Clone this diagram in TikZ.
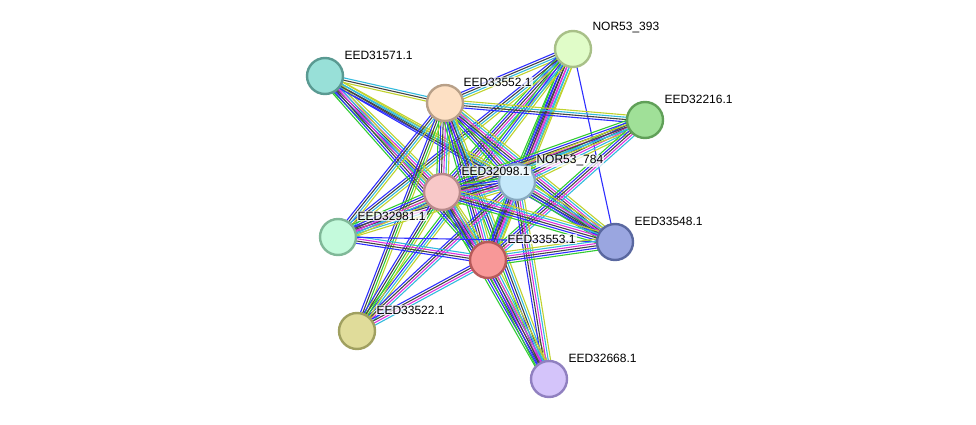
\documentclass[tikz,border=0pt]{standalone}
\usepackage{fontspec}
\setmainfont{Liberation Sans}
\usetikzlibrary{calc,backgrounds}
\definecolor{eg}{HTML}{33CC33}
\definecolor{eb}{HTML}{2E2EFF}
\definecolor{ek}{HTML}{444444}
\definecolor{em}{HTML}{DD33DD}
\definecolor{ec}{HTML}{33BBDD}
\definecolor{ey}{HTML}{C0D22E}
\definecolor{fA}{HTML}{E0FCC8}\definecolor{dA}{HTML}{A8C088}
\definecolor{fB}{HTML}{98E0D8}\definecolor{dB}{HTML}{5A9A92}
\definecolor{fC}{HTML}{FDE0C4}\definecolor{dC}{HTML}{B8A088}
\definecolor{fD}{HTML}{A0E098}\definecolor{dD}{HTML}{60A058}
\definecolor{fE}{HTML}{C4E8FA}\definecolor{dE}{HTML}{88AAC0}
\definecolor{fF}{HTML}{F8C8C8}\definecolor{dF}{HTML}{B88A8A}
\definecolor{fG}{HTML}{C4FADC}\definecolor{dG}{HTML}{80B898}
\definecolor{fH}{HTML}{F89898}\definecolor{dH}{HTML}{B85A5A}
\definecolor{fI}{HTML}{9AA6E0}\definecolor{dI}{HTML}{5A68A0}
\definecolor{fJ}{HTML}{E0DC9A}\definecolor{dJ}{HTML}{A0A060}
\definecolor{fK}{HTML}{D4C4FA}\definecolor{dK}{HTML}{9080C0}
\newcommand\stredge[3]{%
  \gdef\ennum{0}%
  \foreach \ecol in {#3}{\xdef\ennum{\the\numexpr\ennum+1\relax}}%
  \foreach \ecol [count=\ei] in {#3}{%
    \pgfmathsetmacro\eoff{(\ei-(\ennum+1)/2)*2.3}%
    \draw[color=\ecol] ($(#1.center)!\eoff pt!90:(#2.center)$) -- ($(#2.center)!\eoff pt!-90:(#1.center)$);
  }}
\tikzset{
  prot/.style={circle, minimum size=36pt, inner sep=0pt, line width=2.4pt, fill=f#1, draw=d#1},
  plabel/.style={anchor=west, font=\fontsize{12}{14}\selectfont, fill=white, fill opacity=0.75, text opacity=1, inner sep=1pt},
  every path/.append style={line width=1.1pt}
}
\begin{document}
\begin{tikzpicture}[x=1pt,y=-1pt]
\useasboundingbox (0,0) rectangle (976,425);
\node[prot=A] (A) at (573,49) {};
\node[prot=B] (B) at (325,76) {};
\node[prot=C] (C) at (445,103) {};
\node[prot=D] (D) at (645,120) {};
\node[prot=E] (E) at (517,182) {};
\node[prot=F] (F) at (442,192) {};
\node[prot=G] (G) at (338,237) {};
\node[prot=H] (H) at (488,260) {};
\node[prot=I] (I) at (615,242) {};
\node[prot=J] (J) at (357,331) {};
\node[prot=K] (K) at (549,379) {};
\begin{pgfonlayer}{background}
\stredge{A}{C}{eb,ek,ec,ey}
\stredge{A}{E}{eg,eb,ek,em,ec,ey}
\stredge{A}{F}{eg,eb,ek,em,ec,ey}
\stredge{A}{H}{eg,eb,ek,em,ec,ey}
\stredge{A}{G}{eb,ek,ec,ey}
\stredge{A}{J}{eg,eb,ec,ey}
\stredge{A}{I}{eb}
\stredge{B}{C}{ey,ek,ec}
\stredge{B}{E}{eb,ek,ec,ey}
\stredge{B}{F}{eg,eb,ek,em,ec,ey}
\stredge{B}{H}{eg,eb,ek,em,ec,ey}
\stredge{B}{I}{eb,ek,ec,ey}
\stredge{C}{D}{eb,ek,ec,ey}
\stredge{C}{E}{eg,eb,ek,em,ec,ey}
\stredge{C}{F}{eg,eb,ek,em,ec,ey}
\stredge{C}{H}{eg,eb,ek,em,ec,ey}
\stredge{C}{I}{eg,eb,ek,em,ec,ey}
\stredge{C}{G}{eb,ek,ec,ey}
\stredge{C}{J}{eb,ek,eg,ey}
\stredge{C}{K}{eg,eb,ek,ec,ey}
\stredge{D}{E}{eg,eb,ek,em,ec,ey}
\stredge{D}{F}{eg,eb,ek,em,ec,ey}
\stredge{D}{H}{eg,eb,ek,em,ec}
\stredge{D}{G}{ey,ek,ec}
\stredge{E}{F}{eg,eb,ek,em,ec,ey}
\stredge{E}{G}{eb,ek,em,ec,ey}
\stredge{E}{H}{eg,eb,ek,em,ec,ey}
\stredge{E}{I}{eg,eb,ek,em,ec,ey}
\stredge{E}{J}{eb,ek,em,ec}
\stredge{E}{K}{eb,ek,em,ec,ey}
\stredge{F}{G}{eg,eb,ek,em,ec,ey}
\stredge{F}{H}{eg,eb,ek,em,ec,ey}
\stredge{F}{I}{eg,eb,ek,em,ec,ey}
\stredge{F}{J}{eb,ek,eg,ey}
\stredge{F}{K}{eg,eb,ek,em,ec,ey}
\stredge{G}{H}{eb,ek,em,ec}
\stredge{G}{I}{eb}
\stredge{H}{I}{eg,eb,ek,em,ec,ey}
\stredge{H}{J}{eb,ek,em,ec}
\stredge{H}{K}{eg,eb,ek,em,ec,ey}
\end{pgfonlayer}
\node[plabel] (lA) at ($(A)+(18,-21)$) {NOR53\_393};
\node[plabel] (lB) at ($(B)+(18,-21)$) {EED31571.1};
\node[plabel] (lC) at ($(C)+(17,-21)$) {EED33552.1};
\node[plabel] (lD) at ($(D)+(18,-21)$) {EED32216.1};
\node[plabel] (lE) at ($(E)+(18,-21)$) {NOR53\_784};
\node[plabel] (lF) at ($(F)+(18,-21)$) {EED32098.1};
\node[plabel] (lG) at ($(G)+(18,-21)$) {EED32981.1};
\node[plabel] (lH) at ($(H)+(18,-21)$) {EED33553.1};
\node[plabel] (lI) at ($(I)+(18,-21)$) {EED33548.1};
\node[plabel] (lJ) at ($(J)+(18,-21)$) {EED33522.1};
\node[plabel] (lK) at ($(K)+(18,-21)$) {EED32668.1};
\end{tikzpicture}
\end{document}
